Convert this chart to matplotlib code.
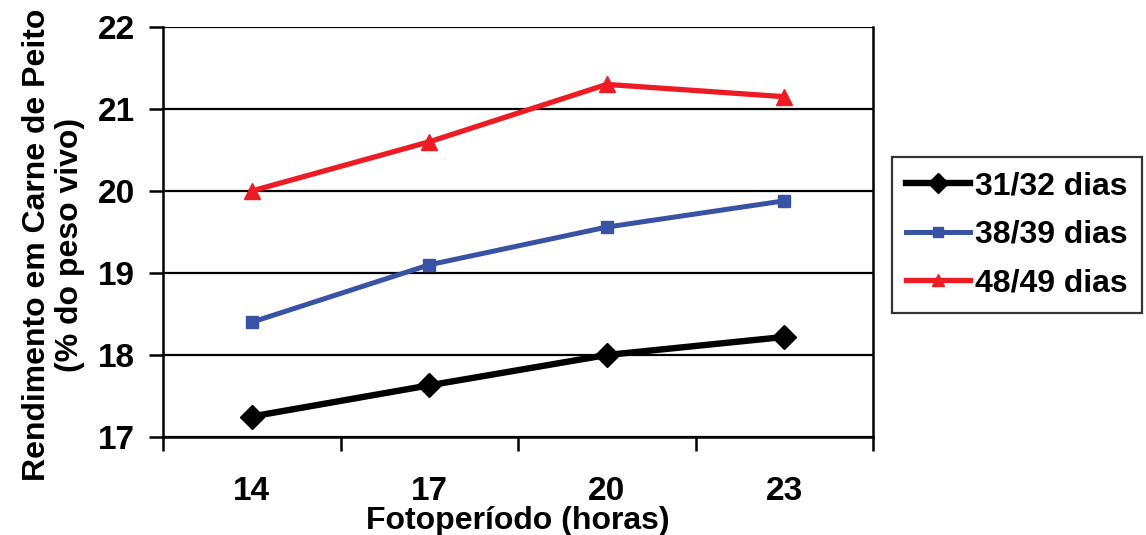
import matplotlib
matplotlib.use("Agg")
import matplotlib.pyplot as plt
from matplotlib.ticker import FixedLocator

categories = ["14", "17", "20", "23"]
series_names = ["31/32 dias", "38/39 dias", "48/49 dias"]
s1 = [17.25, 17.63, 18.00, 18.22]
s2 = [18.40, 19.10, 19.56, 19.88]
s3 = [20.00, 20.60, 21.30, 21.15]
yticks = [17, 18, 19, 20, 21, 22]

plt.rcParams['font.family'] = ['Liberation Sans', 'DejaVu Sans']
plt.rcParams['font.weight'] = 'bold'

fig = plt.figure(figsize=(11.46, 5.35), dpi=100)
ax = fig.add_axes([163/1146, 1-437/535, (873-163)/1146, (437-27)/535])

x = list(range(len(categories)))
ax.plot(x, s1, color='black', lw=4.6, marker='D', ms=12.5, label=series_names[0], zorder=5)
ax.plot(x, s2, color='#3953A4', lw=3.6, marker='s', ms=8, label=series_names[1], zorder=5)
ax.plot(x, s3, color='#ED1C24', lw=3.8, marker='^', ms=11, label=series_names[2], zorder=5)

ax.set_xlim(-0.5, len(categories) - 0.5)
ax.set_ylim(17, 22)
ax.set_yticks(yticks)
ax.set_yticklabels([str(v) for v in yticks], fontsize=24, fontweight='bold')
ax.yaxis.grid(True, color='black', lw=1.6)
ax.set_axisbelow(True)

ax.set_xticks(x)
ax.set_xticklabels(categories, fontsize=24, fontweight='bold')
ax.tick_params(axis='x', which='major', length=0, pad=28)
ax.xaxis.set_minor_locator(FixedLocator([i - 0.5 for i in range(len(categories) + 1)]))
ax.tick_params(axis='x', which='minor', length=10, width=1.8, direction='out')
ax.tick_params(axis='y', which='major', length=10, width=1.8, pad=10)

for side in ['left', 'bottom', 'right']:
    ax.spines[side].set_linewidth(1.8)
ax.spines['top'].set_visible(False)

ax.set_xlabel("Fotoperíodo (horas)", fontsize=23, fontweight='bold')
ax.set_ylabel("Rendimento em Carne de Peito\n(% do peso vivo)", fontsize=23,
              fontweight='bold', linespacing=1.12)
ax.yaxis.set_label_coords(-0.11, 0.468)
ax.xaxis.set_label_coords(0.5, -0.168)

leg = fig.legend(loc='center left', bbox_to_anchor=(892/1146, 1-235/535),
                 fontsize=23, frameon=True, fancybox=False, edgecolor='black',
                 handlelength=2.0, handletextpad=0.15, borderpad=0.45,
                 labelspacing=0.58, borderaxespad=0)
leg.get_frame().set_linewidth(1.6)
for t in leg.get_texts():
    t.set_fontweight('bold')
for h in leg.legend_handles:
    h.set_markersize(h.get_markersize() * 0.85)

fig.savefig("out.png", dpi=100)
